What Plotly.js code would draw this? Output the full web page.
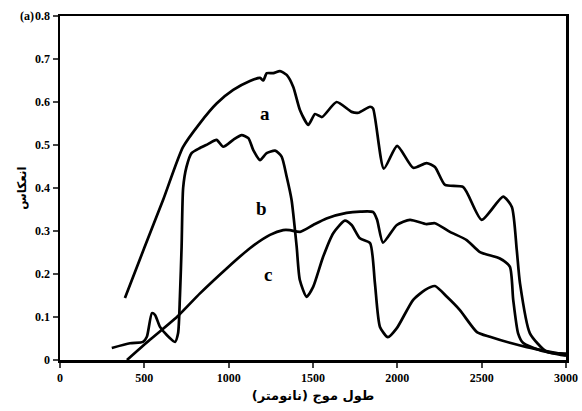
<!DOCTYPE html>
<html>
<head>
<meta charset="utf-8">
<script src="https://cdn.plot.ly/plotly-3.0.1.min.js"></script>
<style>html,body{margin:0;padding:0;background:#fff;}#chart{width:582px;height:411px;}</style>
</head>
<body>
<div id="chart"></div>
<script>
const aX = [385, 500, 611, 729, 830, 930, 1027, 1126, 1186, 1205, 1226, 1265, 1304, 1344, 1383, 1423, 1472, 1512, 1553, 1640, 1729, 1770, 1838, 1856, 1920, 1999, 2094, 2173, 2223, 2283, 2391, 2500, 2627, 2679, 2708, 2727, 2786, 2886, 3000];
const aY = [0.144, 0.261, 0.372, 0.495, 0.551, 0.597, 0.628, 0.649, 0.656, 0.650, 0.667, 0.667, 0.672, 0.663, 0.635, 0.581, 0.547, 0.572, 0.565, 0.600, 0.577, 0.575, 0.589, 0.585, 0.445, 0.498, 0.447, 0.458, 0.449, 0.407, 0.402, 0.326, 0.380, 0.356, 0.256, 0.179, 0.062, 0.019, 0.015];

const bX = [307, 415, 492, 515, 545, 563, 593, 633, 682, 700, 711, 721, 730, 750, 780, 830, 877, 928, 968, 1027, 1077, 1117, 1146, 1186, 1225, 1275, 1314, 1344, 1373, 1403, 1422, 1462, 1501, 1560, 1620, 1689, 1729, 1778, 1838, 1867, 1897, 1944, 1997, 2094, 2165, 2223, 2294, 2371, 2472, 2549, 2667, 2768, 2905, 3000];
const bY = [0.028, 0.039, 0.042, 0.054, 0.109, 0.105, 0.077, 0.058, 0.042, 0.062, 0.147, 0.264, 0.400, 0.449, 0.481, 0.493, 0.502, 0.512, 0.496, 0.512, 0.523, 0.516, 0.488, 0.465, 0.481, 0.487, 0.473, 0.426, 0.372, 0.264, 0.186, 0.147, 0.170, 0.240, 0.295, 0.324, 0.314, 0.283, 0.272, 0.179, 0.077, 0.053, 0.074, 0.140, 0.163, 0.172, 0.147, 0.116, 0.065, 0.054, 0.040, 0.030, 0.019, 0.012];

const cX = [397, 533, 693, 830, 988, 1126, 1245, 1323, 1363, 1423, 1501, 1580, 1699, 1780, 1857, 1880, 1915, 1997, 2075, 2173, 2223, 2312, 2411, 2490, 2608, 2667, 2687, 2716, 2745, 2845, 3000];
const cY = [0.0, 0.047, 0.100, 0.155, 0.213, 0.260, 0.291, 0.302, 0.302, 0.298, 0.314, 0.329, 0.342, 0.345, 0.344, 0.326, 0.273, 0.314, 0.326, 0.316, 0.318, 0.298, 0.279, 0.251, 0.236, 0.217, 0.140, 0.062, 0.040, 0.023, 0.010];

const curveNames = ['a', 'b', 'c'];
const labelX = [1215, 1197, 1233];
const labelY = [0.574, 0.353, 0.198];

const xTickVals = [0, 500, 1000, 1500, 2000, 2500, 3000];
const yTickVals = [0, 0.1, 0.2, 0.3, 0.4, 0.5, 0.6, 0.7, 0.8];
const yTickText = ['0', '0.1', '0.2', '0.3', '0.4', '0.5', '0.6', '0.7', '0.8'];
const xTitle = 'طول موج (نانومتر)';
const yTitle = 'انعکاس';
const panelTag = '(a)';

const lineStyle = {color: '#000', width: 2.7, shape: 'spline', smoothing: 0.6};
const series = [[aX, aY], [bX, bY], [cX, cY]];
const traces = series.map((s, i) => ({
  x: s[0], y: s[1], type: 'scatter', mode: 'lines', name: curveNames[i],
  line: lineStyle, hoverinfo: 'skip'
}));

const tickFont = {family: 'Liberation Serif, serif', size: 12, color: '#000', weight: 'bold'};

const layout = {
  width: 582, height: 411,
  margin: {l: 60, r: 16, t: 16, b: 51},
  paper_bgcolor: '#fff', plot_bgcolor: '#fff',
  showlegend: false,
  xaxis: {
    range: [0, 3000], tickvals: xTickVals, ticks: 'outside', ticklen: 5, tickwidth: 2,
    showline: true, linewidth: 2.5, linecolor: '#000', mirror: true, showgrid: false, zeroline: false,
    tickfont: tickFont,
    title: {text: xTitle, font: {family: 'DejaVu Sans, sans-serif', size: 13, color: '#000', weight: 'bold'}, standoff: 7}
  },
  yaxis: {
    range: [0, 0.8], tickvals: yTickVals, ticktext: yTickText, ticks: 'outside', ticklen: 5, tickwidth: 2,
    showline: true, linewidth: 2.5, linecolor: '#000', mirror: true, showgrid: false, zeroline: false,
    tickfont: tickFont,
    title: {text: yTitle, font: {family: 'DejaVu Sans, sans-serif', size: 12, color: '#000', weight: 'bold'}, standoff: 6}
  },
  annotations: curveNames.map((n, i) => ({
    x: labelX[i], y: labelY[i], xref: 'x', yref: 'y', text: n, showarrow: false,
    font: {family: 'Liberation Serif, serif', size: 19, color: '#000', weight: 'bold'}
  })).concat([{
    x: 0, y: 1, xref: 'paper', yref: 'paper', xanchor: 'right', yanchor: 'middle', xshift: -24,
    text: panelTag, showarrow: false,
    font: {family: 'Liberation Serif, serif', size: 12, color: '#000', weight: 'bold'}
  }])
};

Plotly.newPlot('chart', traces, layout, {displayModeBar: false, staticPlot: true});
</script>
</body>
</html>
